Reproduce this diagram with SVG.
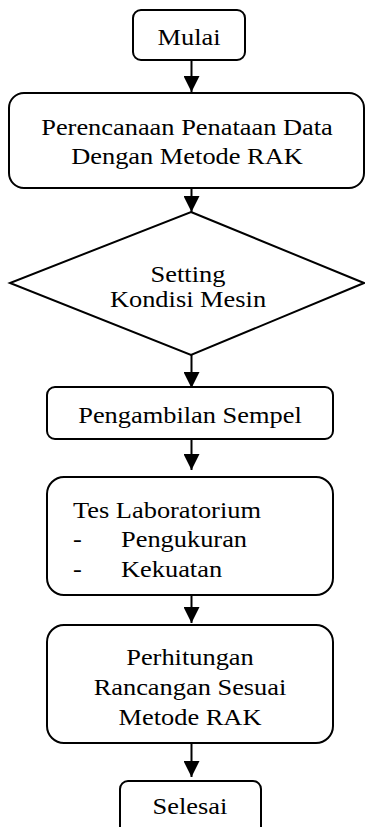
<svg xmlns="http://www.w3.org/2000/svg" width="365" height="827" viewBox="0 0 365 827">
<style>
.b{fill:#fff;stroke:#000;stroke-width:2}
.t{font-family:"Liberation Serif","Times New Roman",Times,serif;font-size:24px;fill:#000}
.c{text-anchor:middle}
.l{stroke:#000;stroke-width:2;fill:none}
</style>
<defs>
<marker id="ah" viewBox="0 0 16 16" refX="16" refY="8" markerWidth="16" markerHeight="16" markerUnits="userSpaceOnUse" orient="auto">
<path d="M0,0 L16,8 L0,16 z" fill="#000"/>
</marker>
</defs>
<rect width="365" height="827" fill="#fff"/>
<g id="connectors">
<line class="l" x1="191.5" y1="60" x2="191.5" y2="92" marker-end="url(#ah)"/>
<line class="l" x1="191.5" y1="188" x2="191.5" y2="212" marker-end="url(#ah)"/>
<line class="l" x1="191.5" y1="355" x2="191.5" y2="388" marker-end="url(#ah)"/>
<line class="l" x1="191.5" y1="439" x2="191.5" y2="470" marker-end="url(#ah)"/>
<line class="l" x1="191.5" y1="595" x2="191.5" y2="623" marker-end="url(#ah)"/>
<line class="l" x1="191.5" y1="743" x2="191.5" y2="777" marker-end="url(#ah)"/>
</g>
<g id="mulai">
<rect class="b" x="133" y="10" width="112" height="50" rx="8"/>
<text class="t c" transform="translate(189,45) scale(1.1,1)">Mulai</text>
</g>
<g id="perencanaan">
<rect class="b" x="9" y="93" width="355" height="95" rx="15"/>
<text class="t c" transform="translate(187,135) scale(1.1,1)">Perencanaan Penataan Data</text>
<text class="t c" transform="translate(187,164) scale(1.1,1)">Dengan Metode RAK</text>
</g>
<g id="setting">
<polygon class="b" points="191,212 364,283 191,355 10,283"/>
<text class="t c" transform="translate(188,282) scale(1.1,1)">Setting</text>
<text class="t c" transform="translate(188,307) scale(1.1,1)">Kondisi Mesin</text>
</g>
<g id="pengambilan">
<rect class="b" x="47" y="387" width="286" height="52" rx="8"/>
<text class="t c" transform="translate(190,423) scale(1.1,1)">Pengambilan Sempel</text>
</g>
<g id="tes">
<rect class="b" x="47" y="477" width="286" height="118" rx="17"/>
<text class="t" transform="translate(73,517.5) scale(1.1,1)">Tes Laboratorium</text>
<text class="t" transform="translate(73,547) scale(1.1,1)">-</text>
<text class="t" transform="translate(121,547) scale(1.1,1)">Pengukuran</text>
<text class="t" transform="translate(73,576.5) scale(1.1,1)">-</text>
<text class="t" transform="translate(121,576.5) scale(1.1,1)">Kekuatan</text>
</g>
<g id="perhitungan">
<rect class="b" x="47" y="625" width="286" height="118" rx="17"/>
<text class="t c" transform="translate(190,665) scale(1.1,1)">Perhitungan</text>
<text class="t c" transform="translate(190,695) scale(1.1,1)">Rancangan Sesuai</text>
<text class="t c" transform="translate(190,724.5) scale(1.1,1)">Metode RAK</text>
</g>
<g id="selesai">
<rect class="b" x="120" y="781" width="141" height="60" rx="8"/>
<text class="t c" transform="translate(190,814) scale(1.1,1)">Selesai</text>
</g>
</svg>
